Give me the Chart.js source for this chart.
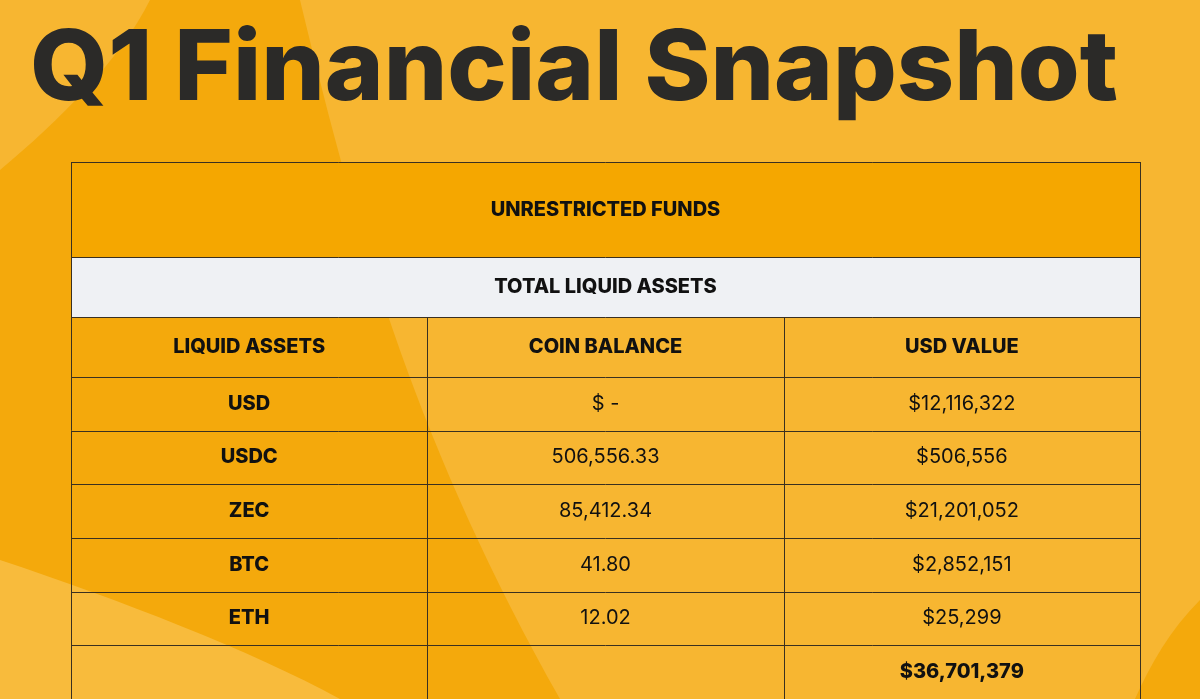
<!DOCTYPE html>
<html>
<head>
<meta charset="utf-8">
<script src="https://cdn.jsdelivr.net/npm/chart.js@4"></script>
<style>
  html, body { margin: 0; padding: 0; background: #f7b631; overflow: hidden; }
  #wrap { position: relative; width: 1200px; height: 699px; }
</style>
</head>
<body>
<div id="wrap"><canvas id="table"></canvas></div>
<script>
// Table content
var title = 'Q1 Financial Snapshot';
var sectionTitle = 'UNRESTRICTED FUNDS';
var subTitle = 'TOTAL LIQUID ASSETS';
var columns = ['LIQUID ASSETS', 'COIN BALANCE', 'USD VALUE'];
var assets = ['USD', 'USDC', 'ZEC', 'BTC', 'ETH', ''];
var coinBalances = ['$ -', '506,556.33', '85,412.34', '41.80', '12.02', ''];
var usdValues = ['$12,116,322', '$506,556', '$21,201,052', '$2,852,151', '$25,299', '$36,701,379'];

// Row heights (layout only); last row runs off the bottom edge
var rowHeights = [96, 60, 60, 54, 54, 54, 54, 54, 54];

var edges = [0];
rowHeights.forEach(function(h) { edges.push(edges[edges.length - 1] + h); });

var FONT = '"Inter", "Noto Sans", sans-serif';

function drawBackground(chart) {
    var ctx = chart.ctx;
    ctx.save();
    ctx.fillStyle = '#f7b631';
    ctx.fillRect(0, 0, 1200, 699);
    // darker sweep on the left
    ctx.fillStyle = '#f4a90c';
    ctx.beginPath();
    ctx.moveTo(150, 0);
    ctx.lineTo(300, 0);
    ctx.bezierCurveTo(360, 250, 420, 450, 560, 699);
    ctx.lineTo(0, 699);
    ctx.lineTo(0, 170);
    ctx.bezierCurveTo(60, 120, 120, 60, 150, 0);
    ctx.fill();
    // lighter arc bottom-left
    ctx.fillStyle = '#f8bb3c';
    ctx.beginPath();
    ctx.moveTo(0, 560);
    ctx.bezierCurveTo(120, 600, 250, 650, 340, 699);
    ctx.lineTo(0, 699);
    ctx.fill();
    // darker corner bottom-right
    ctx.fillStyle = '#f4a90c';
    ctx.beginPath();
    ctx.moveTo(1200, 600);
    ctx.bezierCurveTo(1170, 630, 1150, 665, 1135, 699);
    ctx.lineTo(1200, 699);
    ctx.fill();
    // title
    ctx.fillStyle = '#2b2a28';
    ctx.font = '800 98px ' + FONT;
    ctx.textBaseline = 'alphabetic';
    var w = ctx.measureText(title).width;
    ctx.translate(30, 100);
    ctx.scale(1088 / w, 1);
    ctx.fillText(title, 0, 0);
    ctx.restore();
}

var tablePlugin = {
    id: 'tablePlugin',
    beforeDraw: function(chart) {
        drawBackground(chart);
    },
    afterDraw: function(chart) {
        var ctx = chart.ctx;
        var xs = chart.scales.x, ys = chart.scales.y;
        var left = xs.getPixelForValue(0), right = xs.getPixelForValue(3);
        function yAt(i) { return ys.getPixelForValue(edges[i]); }
        function colX(c) { return xs.getPixelForValue(c); }
        function text(str, x, y, bold) {
            ctx.font = (bold ? '800 ' : '400 ') + '20px ' + FONT;
            ctx.fillText(str, x, y);
        }
        ctx.save();
        ctx.fillStyle = '#f5a700';
        ctx.fillRect(left, yAt(0), right - left, yAt(1) - yAt(0));
        ctx.fillStyle = '#eff1f4';
        ctx.fillRect(left, yAt(1), right - left, yAt(2) - yAt(1));

        ctx.strokeStyle = '#3a3020';
        ctx.lineWidth = 1;
        ctx.beginPath();
        for (var i = 0; i < edges.length - 1; i++) {
            var y = Math.round(yAt(i)) + 0.5;
            ctx.moveTo(left, y); ctx.lineTo(right, y);
        }
        var bottom = yAt(edges.length - 1);
        [0, 3].forEach(function(c) {
            var x = Math.round(colX(c)) + 0.5;
            ctx.moveTo(x, yAt(0)); ctx.lineTo(x, bottom);
        });
        [1, 2].forEach(function(c) {
            var x = Math.round(colX(c)) + 0.5;
            ctx.moveTo(x, yAt(2)); ctx.lineTo(x, bottom);
        });
        ctx.stroke();

        ctx.fillStyle = '#111';
        ctx.textAlign = 'center';
        ctx.textBaseline = 'middle';
        var mid = (left + right) / 2;
        text(sectionTitle, mid, (yAt(0) + yAt(1)) / 2, true);
        text(subTitle, mid, (yAt(1) + yAt(2)) / 2, true);
        columns.forEach(function(c, j) {
            text(c, xs.getPixelForValue(j + 0.5), (yAt(2) + yAt(3)) / 2, true);
        });
        assets.forEach(function(a, r) {
            var cy = (yAt(r + 3) + yAt(r + 4)) / 2;
            var last = r === assets.length - 1;
            text(a, xs.getPixelForValue(0.5), cy, true);
            text(coinBalances[r], xs.getPixelForValue(1.5), cy, false);
            text(usdValues[r], xs.getPixelForValue(2.5), cy, last);
        });
        ctx.restore();
    }
};

new Chart(document.getElementById('table'), {
    type: 'scatter',
    data: { datasets: [{ data: [] }] },
    options: {
        responsive: true,
        maintainAspectRatio: false,
        animation: false,
        layout: { padding: { left: 71, right: 60, top: 162, bottom: 0 } },
        plugins: { legend: { display: false }, tooltip: { enabled: false } },
        scales: {
            x: { type: 'linear', min: 0, max: 3, display: false },
            y: { type: 'linear', min: 0, max: edges[edges.length - 1], reverse: true, display: false }
        }
    },
    plugins: [tablePlugin]
});
</script>
</body>
</html>
